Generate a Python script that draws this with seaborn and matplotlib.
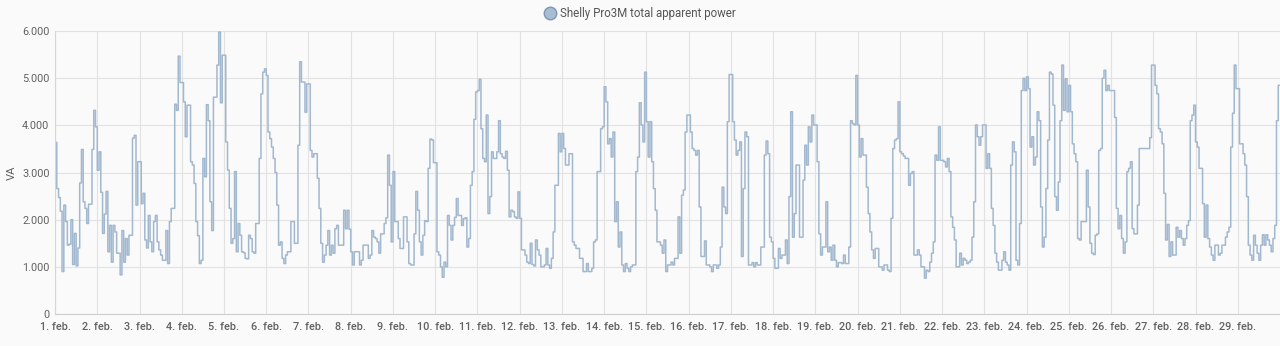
import numpy as np
import pandas as pd
import matplotlib
matplotlib.use("Agg")
import matplotlib.pyplot as plt
import matplotlib.dates as mdates
from matplotlib.ticker import FuncFormatter
from matplotlib.lines import Line2D
import seaborn as sns

# Hourly apparent power readings (VA), February 2024
week1 = [
    3640, 2660, 2470, 2180, 900, 2310, 1960, 1460, 1480, 2000, 1050, 1710, 1020, 1400, 2780, 3490, 2380, 2240, 1920, 2330, 2330, 3490, 4320, 3970,
    3050, 3440, 2580, 1710, 2120, 2600, 1320, 1880, 1100, 1880, 1740, 1290, 1290, 830, 1770, 1100, 1600, 1250, 1670, 1670, 3730, 3790, 2310, 3230,
    3230, 2340, 2560, 1570, 1400, 2090, 1530, 1320, 1960, 2090, 1530, 1360, 1250, 1140, 1140, 1770, 1070, 1960, 2240, 2240, 4450, 4320, 5470, 4910,
    4910, 4500, 3760, 4430, 4430, 3230, 3160, 2770, 1960, 1660, 1070, 1140, 3300, 2910, 4440, 4100, 2380, 1770, 4600, 4600, 5280, 5980, 4480, 5490,
    5490, 3650, 3050, 2240, 1500, 1600, 3020, 1320, 1920, 1670, 1320, 1300, 1180, 1170, 1670, 1600, 1320, 1290, 1920, 1920, 3300, 4670, 5130, 5200,
    5060, 3860, 3720, 3540, 3300, 3000, 2310, 1460, 1530, 1180, 1070, 1250, 1320, 1320, 1960, 1960, 1500, 1500, 3580, 5350, 4920, 4920, 4280, 4880,
    4880, 3470, 3330, 3400, 3400, 2880, 2240, 1500, 1100, 1250, 1460, 1770, 1250, 1460, 1290, 1810, 1880, 1460, 1460, 1460, 2200, 1810, 2200, 1800,
]
week2 = [
    1320, 1040, 1320, 1320, 1320, 1040, 1140, 1460, 1460, 1460, 1180, 1250, 1770, 1630, 1600, 1530, 1290, 1700, 1700, 1920, 2040, 3370, 2730, 1530,
    3020, 1960, 1960, 1600, 1390, 1390, 2060, 2060, 1530, 1070, 1040, 1040, 1700, 2600, 2200, 1530, 1250, 1670, 1980, 1960, 3090, 3710, 3690, 3210,
    3210, 1320, 1250, 1000, 780, 1100, 1000, 2090, 1880, 1570, 1880, 2050, 2450, 2090, 2090, 1880, 2020, 2040, 1420, 1600, 2730, 3020, 4130, 4710,
    4740, 4980, 3930, 3300, 3230, 4220, 2130, 2490, 3440, 3300, 3300, 3440, 4100, 3400, 3330, 3300, 3450, 3050, 2060, 2200, 2170, 2060, 2030, 2590,
    2030, 1360, 1360, 1250, 1100, 1070, 1500, 1050, 1020, 1570, 1360, 1250, 1000, 1000, 1040, 1390, 1040, 970, 1180, 1740, 2730, 2730, 3830, 3440,
    3830, 3510, 3160, 3160, 3400, 3400, 1530, 1460, 1390, 1390, 1180, 1180, 900, 900, 1070, 900, 900, 970, 1530, 1570, 3020, 3020, 3930, 3970,
    4820, 4500, 3610, 3720, 3330, 3860, 1960, 2380, 1420, 1740, 1040, 900, 1070, 970, 900, 1000, 1040, 1040, 3020, 3330, 4480, 4010, 3650, 5130,
]
week3 = [
    4080, 3330, 4080, 3230, 2660, 2200, 1530, 1530, 1460, 1290, 1570, 900, 1040, 1040, 1100, 1040, 1180, 1180, 2060, 1290, 2520, 2630, 3860, 4220,
    4220, 3860, 3510, 3470, 3370, 3470, 2270, 1220, 1220, 1550, 1040, 1040, 1000, 900, 1040, 1040, 970, 1040, 1420, 2690, 2270, 2130, 4080, 5080,
    5080, 4080, 3690, 3370, 3470, 3650, 1220, 2660, 3860, 3760, 1040, 1040, 1090, 1000, 1090, 1040, 1040, 1420, 1420, 3370, 3670, 3400, 1630, 1530,
    1180, 970, 970, 1390, 1180, 1250, 1250, 1570, 1070, 2490, 4290, 1630, 2130, 3160, 3160, 1630, 1630, 2840, 3580, 3160, 3970, 3650, 4220, 4010,
    4010, 3230, 1700, 1250, 1420, 1420, 2380, 1320, 1420, 1140, 1460, 1140, 1000, 1090, 1090, 1070, 1250, 1070, 1070, 1420, 4100, 4040, 4010, 5060,
    4010, 3330, 3720, 3370, 3370, 2690, 2130, 1740, 1360, 1180, 1390, 1390, 1000, 1000, 930, 1040, 1040, 930, 900, 2030, 3510, 3690, 3720, 4500,
    3440, 3400, 3350, 3300, 3300, 2730, 2980, 3020, 1250, 1250, 1360, 1250, 1000, 1000, 760, 930, 900, 1100, 1290, 1530, 3370, 3260, 3970, 3260,
]
week4 = [
    3260, 3230, 3120, 3300, 3020, 2060, 1840, 1570, 1000, 1000, 1290, 1040, 1180, 1140, 1070, 1100, 1140, 1630, 2380, 4010, 3760, 3580, 3760, 4010,
    4010, 3090, 3400, 3090, 2240, 1880, 1290, 1100, 930, 930, 1140, 1320, 1100, 1040, 930, 3160, 3650, 3440, 1140, 1040, 1920, 4740, 5000, 4740,
    5030, 4780, 3540, 3760, 3160, 3330, 4290, 4100, 2270, 1420, 1630, 2660, 3690, 5130, 5090, 4430, 2490, 2200, 2800, 4100, 5280, 4320, 4990, 4290,
    4850, 4290, 3610, 3400, 3230, 1600, 1570, 1960, 1960, 1960, 3050, 2270, 1500, 1290, 1260, 1670, 1700, 3470, 3510, 5000, 5170, 4740, 4850, 4740,
    4740, 4740, 4170, 2240, 1810, 2090, 1600, 1290, 1530, 3020, 3090, 3230, 1810, 1700, 1700, 2310, 3510, 3510, 3510, 3510, 3510, 3510, 3740, 5280,
    5280, 4850, 4670, 3930, 3860, 3610, 2560, 1570, 1900, 1220, 1530, 1250, 1250, 1840, 1630, 1770, 1600, 1460, 1600, 1880, 1980, 4100, 4220, 4430,
    3650, 3540, 3090, 3090, 2340, 1630, 2310, 1600, 1420, 1250, 1140, 1460, 1460, 1250, 1290, 1460, 1460, 1630, 1740, 1840, 3540, 4260, 5280, 4780,
]
week5 = [
    4780, 3610, 3610, 3400, 3160, 2490, 1460, 1250, 1140, 1670, 1460, 1290, 1140, 1460, 1680, 1460, 1680, 1570, 1460, 1320, 1600, 1880, 4100, 4850,
]

series_name = "Shelly Pro3M total apparent power"
y_label = "VA"
y_ticks = [0, 1000, 2000, 3000, 4000, 5000, 6000]
n_days = 29

values = week1 + week2 + week3 + week4 + week5
start = pd.Timestamp("2024-02-01 00:00")
times = pd.date_range(start, periods=len(values), freq="h")
end = times[-1] + pd.Timedelta(hours=1)
df = pd.DataFrame({"time": list(times) + [end], "power": values + [values[-1]]})

sns.set_style("whitegrid")
plt.rcParams["font.family"] = ["Roboto", "DejaVu Sans"]

line_color = "#a2b8cf"
fig = plt.figure(figsize=(12.8, 3.46), dpi=100)
fig.patch.set_facecolor("#fafafa")
ax = fig.add_axes([0.043, 0.0925, 0.957, 0.8175])
ax.set_facecolor("#fafafa")

sns.lineplot(data=df, x="time", y="power", ax=ax, drawstyle="steps-post",
             color=line_color, linewidth=1.1, legend=False)

ax.set_xlim(start, end)
ax.set_ylim(0, 6000)
ax.set_yticks(y_ticks)
ax.yaxis.set_major_formatter(FuncFormatter(lambda v, p: f"{int(v):,}".replace(",", ".")))
ax.set_xticks(pd.date_range(start, periods=n_days, freq="D"))
ax.xaxis.set_major_formatter(FuncFormatter(lambda v, p: f"{mdates.num2date(v).day}. feb."))

ax.grid(True, color="#e2e2e2", linewidth=0.8)
ax.tick_params(axis="both", length=0, labelsize=7.8, colors="#616161", pad=4)
ax.tick_params(axis="x", pad=6)
for lbl in ax.get_xticklabels():
    lbl.set_fontweight("medium")
for s in ["top", "right"]:
    ax.spines[s].set_visible(False)
ax.spines["left"].set_color("#d6d6d6")
ax.spines["left"].set_linewidth(0.8)
ax.spines["bottom"].set_color("#cfcfcf")
ax.spines["bottom"].set_linewidth(0.8)
ax.set_xlabel("")
ax.set_ylabel(y_label, fontsize=8, color="#616161", labelpad=4)

handle = Line2D([], [], linestyle="none", marker="o", markersize=9,
                markerfacecolor="#a9bdd2", markeredgecolor="#7d97b3", markeredgewidth=1.0)
fig.legend([handle], [series_name], loc="center", bbox_to_anchor=(0.5, 0.962),
           frameon=False, fontsize=8.3, labelcolor="#555555", handletextpad=0.4,
           borderaxespad=0, handlelength=1.0)

fig.savefig("out.png", dpi=100, facecolor=fig.get_facecolor())
